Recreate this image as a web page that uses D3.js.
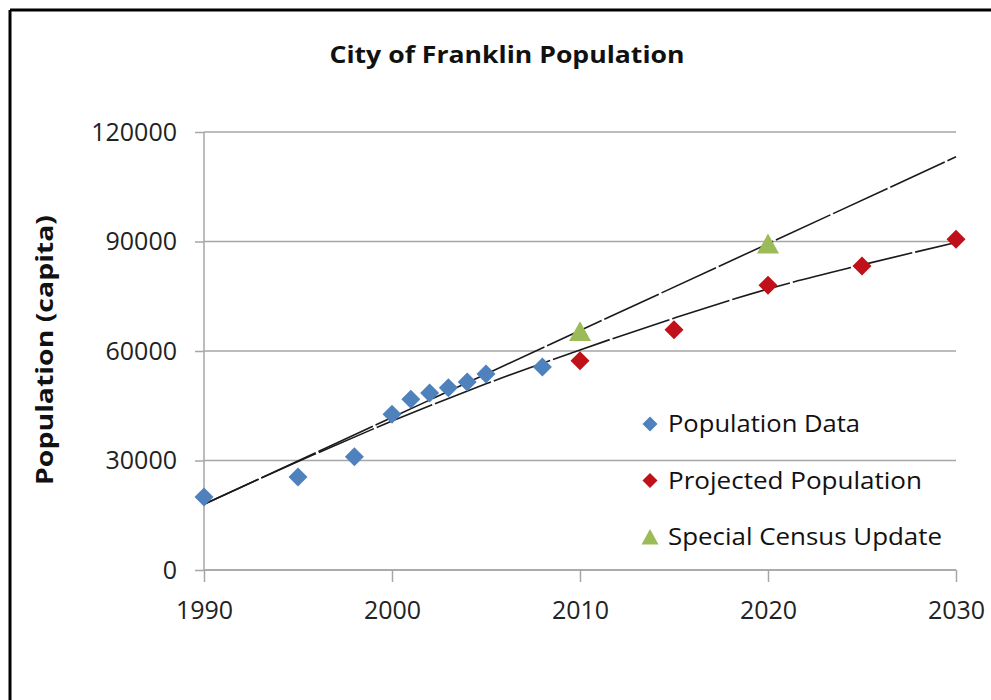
<!DOCTYPE html>
<html><head><meta charset="utf-8">
<script src="https://cdn.jsdelivr.net/npm/d3@7"></script>
<style>
html,body{margin:0;padding:0;background:#fff;}
svg{display:block;font-family:"Open Sans",Lato,sans-serif;}
</style></head>
<body>
<script>
// ---- data ----
const popYears = [1990,1995,1998,2000,2001,2002,2003,2004,2005,2008];
const popValues = [20000,25500,31000,42700,46800,48500,49900,51500,53700,55600];
const projYears = [2010,2015,2020,2025,2030];
const projValues = [57300,65800,78000,83300,90600];
const censusYears = [2010,2020];
const censusValues = [65000,89000];
const linTrendYears = [1990,2030];
const linTrendValues = [18000,113200];
const curveTrendYears = [1990,1995,2000,2005,2010,2015,2020,2025,2030];
const curveTrendValues = [18000,29700,40800,51000,60300,69000,77000,83600,89700];
const xTicks = [1990,2000,2010,2020,2030];
const yTicks = [0,30000,60000,90000,120000];
const legendLabels = ["Population Data","Projected Population","Special Census Update"];
const title = "City of Franklin Population";
const yTitle = "Population (capita)";

// ---- styles ----
const legendTextWidths = [192,254,274];

const W=991,H=700;
const svg=d3.select("body").append("svg").attr("width",W).attr("height",H);

svg.append("line").attr("x1",10).attr("y1",10).attr("x2",W).attr("y2",10).attr("stroke","#000").attr("stroke-width",3);
svg.append("line").attr("x1",10).attr("y1",10).attr("x2",10).attr("y2",H).attr("stroke","#000").attr("stroke-width",3);

const x=d3.scaleLinear().domain([1990,2030]).range([204,956]);
const y=d3.scaleLinear().domain([0,120000]).range([570,132]);

const gridColor="#a6a6a6";
svg.append("g").selectAll("line").data(yTicks).join("line")
  .attr("x1",x(1990)).attr("x2",x(2030)).attr("y1",d=>y(d)).attr("y2",d=>y(d))
  .attr("stroke",gridColor).attr("stroke-width",1.5);

const yAxis=svg.append("g").attr("transform",`translate(${x(1990)},0)`)
  .call(d3.axisLeft(y).tickValues(yTicks).tickSize(9).tickPadding(18).tickFormat(d3.format("d")));
yAxis.select(".domain").attr("stroke",gridColor).attr("stroke-width",1.5).attr("d",`M0,${y(120000)}V${y(0)}`);
yAxis.selectAll(".tick line").attr("stroke",gridColor).attr("stroke-width",1.5);
yAxis.selectAll("text").attr("font-size",25).attr("fill","#222").attr("font-family","'Open Sans',sans-serif");

const xAxis=svg.append("g").attr("transform",`translate(0,${y(0)})`)
  .call(d3.axisBottom(x).tickValues(xTicks).tickSize(12).tickPadding(28).tickFormat(d3.format("d")));
xAxis.select(".domain").attr("stroke",gridColor).attr("stroke-width",1.5).attr("d",`M${x(1990)},0H${x(2030)}`);
xAxis.selectAll(".tick line").attr("stroke",gridColor).attr("stroke-width",1.5);
xAxis.selectAll("text").attr("font-size",25).attr("fill","#222").attr("dy","0.35em").attr("font-family","'Open Sans',sans-serif");

const line=d3.line().x(d=>x(d[0])).y(d=>y(d[1]));
svg.append("path").datum(d3.zip(linTrendYears,linTrendValues)).attr("d",line)
  .attr("fill","none").attr("stroke","#1a1a1a").attr("stroke-width",1.6).attr("stroke-dasharray","60,3");
svg.append("path").datum(d3.zip(curveTrendYears,curveTrendValues)).attr("d",line.curve(d3.curveMonotoneX))
  .attr("fill","none").attr("stroke","#1a1a1a").attr("stroke-width",1.6).attr("stroke-dasharray","60,3");

function diamond(cx,cy,r){return `M${cx},${cy-r}L${cx+r},${cy}L${cx},${cy+r}L${cx-r},${cy}Z`;}
function tri(cx,cy,r){return `M${cx},${cy-r*1.05}L${cx+r},${cy+r*0.75}L${cx-r},${cy+r*0.75}Z`;}

const blue="#4f81bd", red="#c0101a", green="#9bbb59";
svg.append("g").selectAll("path").data(d3.zip(popYears,popValues)).join("path")
  .attr("d",d=>diamond(x(d[0]),y(d[1]),9.5)).attr("fill",blue);
svg.append("g").selectAll("path").data(d3.zip(projYears,projValues)).join("path")
  .attr("d",d=>diamond(x(d[0]),y(d[1]),9.5)).attr("fill",red);
svg.append("g").selectAll("path").data(d3.zip(censusYears,censusValues)).join("path")
  .attr("d",d=>tri(x(d[0]),y(d[1]),11)).attr("fill",green);

const lg=svg.append("g");
const rows=[[legendLabels[0],blue,"d"],[legendLabels[1],red,"d"],[legendLabels[2],green,"t"]];
rows.forEach((r,i)=>{
  const cy=424+i*56.5;
  lg.append("path").attr("d",r[2]==="d"?diamond(650,cy,7.5):tri(650,cy+1,8.5)).attr("fill",r[1]);
  lg.append("text").attr("x",668).attr("y",cy).attr("dy","0.35em").attr("font-size",24).attr("fill","#111")
    .attr("textLength",legendTextWidths[i]).attr("lengthAdjust","spacingAndGlyphs").text(r[0]);
});

svg.append("text").attr("x",507).attr("y",55).attr("dy","0.35em").attr("text-anchor","middle")
  .attr("font-size",24).attr("font-weight","bold").attr("fill","#111")
  .attr("textLength",355).attr("lengthAdjust","spacingAndGlyphs").text(title);
svg.append("text").attr("transform","translate(45,350) rotate(-90)").attr("dy","0.35em").attr("text-anchor","middle")
  .attr("font-size",24).attr("font-weight","bold").attr("fill","#111")
  .attr("textLength",270).attr("lengthAdjust","spacingAndGlyphs").text(yTitle);
</script>
</body></html>
